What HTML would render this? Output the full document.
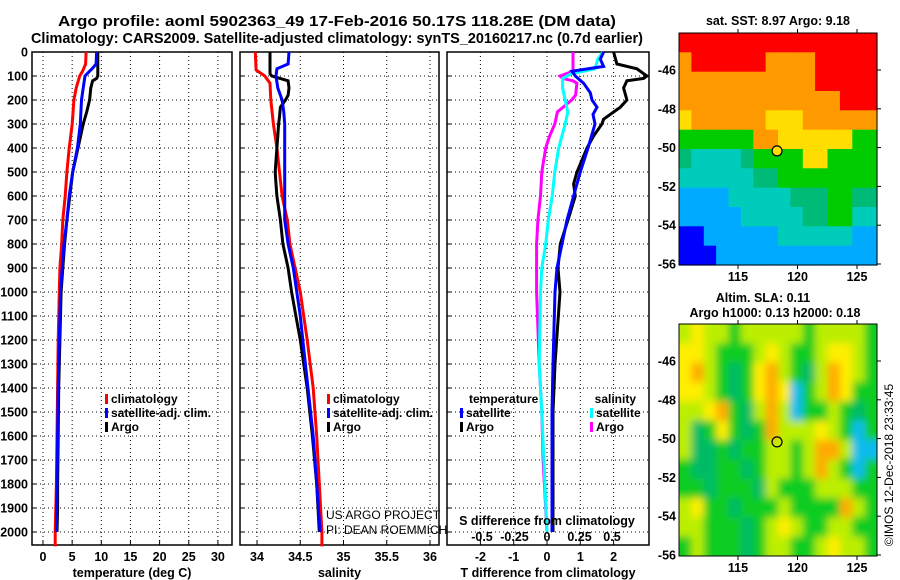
<!DOCTYPE html>
<html><head><meta charset="utf-8"><style>
html,body{margin:0;padding:0;background:#fff;}
svg{display:block;font-family:"Liberation Sans",sans-serif;}
</style></head><body>
<svg id="chart" width="900" height="580" viewBox="0 0 900 580">
<defs>
<clipPath id="clipB"><rect x="679" y="324" width="198" height="232"/></clipPath>
<filter id="blur" x="-10%" y="-10%" width="120%" height="120%"><feGaussianBlur stdDeviation="4"/></filter>
</defs>
<g id="root"></g>
</svg>
<script>
// ---- data arrays ----
const depthTicks = [0,100,200,300,400,500,600,700,800,900,1000,1100,1200,1300,1400,1500,1600,1700,1800,1900,2000];
const tempTicks = [0,5,10,15,20,25,30];
const salTicks = [34,34.5,35,35.5,36];
const tdiffTicks = [-2,-1,0,1,2];
const sdiffTicks = [-0.5,-0.25,0,0.25,0.5];
const sdiffLabels = ["-0.5","-0.25","0","0.25","0.5"];

const tClimDepth = [0,50,80,100,150,200,300,400,500,600,700,800,900,1000,1200,1400,1600,1800,2000,2060];
const tClimVal = [7.4,7.3,6.8,6.3,5.7,5.3,5.0,4.5,4.1,3.8,3.4,3.2,2.9,2.8,2.6,2.5,2.4,2.3,2.1,2.1];
const tSatDepth = [0,50,70,80,100,150,200,300,400,500,600,700,800,900,1000,1200,1400,1600,1800,2000];
const tSatVal = [9.2,9.1,8.4,8.0,7.2,6.9,6.6,6.4,5.9,5.1,4.5,4.1,3.6,3.3,3.0,2.8,2.6,2.5,2.4,2.3];
const tArgoDepth = [0,100,110,120,150,200,250,300,400,500,600,700,800,900,1000,1200,1400,1600,1800,1900,2000];
const tArgoVal = [9.4,9.4,9.2,8.5,8.2,8.0,7.5,6.9,6.0,5.1,4.6,4.1,3.7,3.4,3.1,2.9,2.7,2.6,2.5,2.5,2.4];

const sClimDepth = [0,75,100,130,200,300,400,500,600,700,800,900,1000,1100,1200,1400,1600,1800,2000,2060];
const sClimVal = [33.98,33.99,34.09,34.15,34.16,34.19,34.23,34.26,34.29,34.35,34.38,34.44,34.5,34.54,34.58,34.65,34.69,34.72,34.75,34.75];
const sSatDepth = [0,50,70,100,150,200,250,300,700,800,900,1000,1100,1200,1400,1600,1800,2000];
const sSatVal = [34.37,34.36,34.23,34.22,34.24,34.29,34.31,34.32,34.32,34.36,34.42,34.46,34.5,34.53,34.59,34.65,34.69,34.73];
const sArgoDepth = [0,90,100,120,150,180,200,230,270,300,350,400,500,550,600,700,800,900,1000,1100,1200,1400,1600,1800,2000];
const sArgoVal = [34.15,34.15,34.17,34.36,34.37,34.36,34.33,34.27,34.26,34.25,34.24,34.23,34.21,34.22,34.23,34.27,34.30,34.36,34.40,34.45,34.50,34.58,34.64,34.69,34.72];

const dtArgoDepth = [0,50,70,100,110,120,150,200,230,280,300,350,400,450,500,550,600,700,800,900,1000,1300,1500,2000];
const dtArgoVal = [2.0,2.1,2.7,3.0,2.9,2.4,2.3,2.4,2.2,1.7,1.65,1.4,1.2,1.05,0.9,0.8,0.85,0.63,0.4,0.33,0.39,0.24,0.18,0.18];
const dtSatDepth = [0,30,60,80,100,130,170,200,230,260,300,400,500,600,700,800,900,1000,1300,1500,2000];
const dtSatVal = [1.7,1.6,1.7,0.75,0.85,1.1,1.3,1.35,1.5,1.38,1.44,1.23,1.0,0.8,0.6,0.45,0.3,0.24,0.18,0.15,0.15];
const dsSatDepth = [0,30,70,90,110,150,200,250,300,400,500,600,700,800,900,1000,1300,1500,2000];
const dsSatVal = [0.43,0.39,0.37,0.19,0.12,0.12,0.14,0.16,0.14,0.09,0.06,0.04,0.01,-0.01,-0.04,-0.05,-0.06,-0.04,0.0];
const dsArgoDepth = [0,80,100,110,120,130,180,200,250,300,350,400,500,600,700,800,1000,1300,1500,1700,2000];
const dsArgoVal = [0.2,0.2,0.1,0.12,0.2,0.23,0.22,0.19,0.08,0.06,0.02,-0.01,-0.04,-0.05,-0.07,-0.08,-0.08,-0.06,-0.04,-0.03,0.0];

const lonTicks = [115,120,125];
const latTicks = [-46,-48,-50,-52,-54,-56];
const argoLon = 118.28, argoLat = -50.17;
const sstGrid = [
"RRRRRRRRRRRRRRRR",
"ORRRRRROOOORRRRR",
"OOOOOOOOOOORRRRR",
"OOOOOOOOOOOOORRR",
"YOOOOOOYYYOOOOOO",
"GGGGGGOOYYYYYYGG",
"TCCCCTGGGGYYGGGG",
"CCCCCCTTGGGGGGGG",
"BBBBCCCCCTTTGGTT",
"BBBBBCCCCCTTGGCC",
"DDBBBBBBCCCCCCBB",
"DDDBBBBBBBBBBBBB"];
const slaGrid = [
"LYLLGLLLLLGLLLLG",
"YYLGGGLYLGGLYYLG",
"YOLGTGYOLGTLOYLG",
"YYLGTGYOYCGLOYGG",
"LLYOGTLOLCGGLGTG",
"LTGYGTGOLLLYLGCG",
"LTTGTGGLLGLOOLCC",
"GTTGGTGLLGLOLGCG",
"GGTGGGTLGGGLLLGG",
"LYGGTGGGLGGGGOLG",
"LLGGGTGLYLGGLLGG",
"GLGGGTGLLGGLYLLG"];

// ---- helpers ----
const NS="http://www.w3.org/2000/svg";
const root=document.getElementById('root');
function el(tag,attrs,parent){const e=document.createElementNS(NS,tag);for(const k in attrs)e.setAttribute(k,attrs[k]);(parent||root).appendChild(e);return e;}
function txt(s,x,y,size,anchor,bold,parent){const t=el('text',{x:x,y:y,'font-size':size,'text-anchor':anchor||'middle'},parent);if(bold)t.setAttribute('font-weight','bold');t.textContent=s;return t;}
const Y0=52,Y1=545;
function yD(d){return Y0+d*0.24;}
const P1={x0:32,x1:232,sx:v=>43+v*5.83};
const P2={x0:240,x1:439,sx:v=>257+(v-34)*86.5};
const P3={x0:447,x1:649,sx:v=>547+v*33.3,ss:v=>547+v*130};

function panel(P,name,xt,xlab,title,leftLabels){
  const g=el('g',{});
  
  
  el('rect',{x:P.x0,y:Y0,width:P.x1-P.x0,height:Y1-Y0,fill:'#fff',stroke:'#000','stroke-width':1.5},g);
  depthTicks.forEach(d=>{
    const y=yD(d);
    if(d>0) el('line',{x1:P.x0,x2:P.x1,y1:y,y2:y,stroke:'#000','stroke-width':1,'stroke-dasharray':'1,3'},g);
    el('line',{x1:P.x0,x2:P.x0+5,y1:y,y2:y,stroke:'#000'},g);
    if(leftLabels){const t=txt(String(d),28,y+4.5,12.5,'end',true,g);
      
      }
  });
  xt.forEach((v,i)=>{
    const x=P.sx(v);
    el('line',{x1:x,x2:x,y1:Y0,y2:Y1,stroke:'#000','stroke-width':1,'stroke-dasharray':'1,3'},g);
    el('line',{x1:x,x2:x,y1:Y1,y2:Y1-5,stroke:'#000'},g);
    const t=txt(String(v),x,561,12.5,'middle',true,g);
    
    
  });
  const at=txt(title,(P.x0+P.x1)/2,577,12.5,'middle',true,g);
  
  
  return g;
}
function line(depths,vals,sx,color,name,g){
  const pts=depths.map((d,i)=>sx(vals[i]).toFixed(1)+','+yD(d).toFixed(1)).join(' ');
  const p=el('polyline',{points:pts,fill:'none',stroke:color,'stroke-width':3,'stroke-linejoin':'miter'},g);
  
  
}
function legendEntry(x,y,color,label,g){
  el('rect',{x:x,y:y-9,width:3,height:10,fill:color},g);
  const t=txt(label,x+6,y,12,'start',true,g);
  
  
}

// titles
const t1=txt('Argo profile: aoml 5902363_49 17-Feb-2016 50.17S 118.28E (DM data)',337,26,15,'middle',true);
t1.setAttribute('textLength','558');
t1.setAttribute('lengthAdjust','spacingAndGlyphs');


const t2=txt('Climatology: CARS2009. Satellite-adjusted climatology: synTS_20160217.nc (0.7d earlier)',337,43,15,'middle',true);
t2.setAttribute('textLength','612');
t2.setAttribute('lengthAdjust','spacingAndGlyphs');



// panel 1
const g1=panel(P1,'temperature-panel',tempTicks,null,'temperature (deg C)',true);
line(tClimDepth,tClimVal,P1.sx,'#ff0000','temp-climatology-line',g1);
line(tArgoDepth,tArgoVal,P1.sx,'#000000','temp-argo-line',g1);
line(tSatDepth,tSatVal,P1.sx,'#0000ff','temp-satellite-line',g1);
legendEntry(105,403,'#ff0000','climatology',g1);
legendEntry(105,417,'#0000ff','satellite-adj. clim.',g1);
legendEntry(105,431,'#000000','Argo',g1);

// panel 2
const g2=panel(P2,'salinity-panel',salTicks,null,'salinity',false);
line(sClimDepth,sClimVal,P2.sx,'#ff0000','sal-climatology-line',g2);
line(sArgoDepth,sArgoVal,P2.sx,'#000000','sal-argo-line',g2);
line(sSatDepth,sSatVal,P2.sx,'#0000ff','sal-satellite-line',g2);
legendEntry(327,403,'#ff0000','climatology',g2);
legendEntry(327,417,'#0000ff','satellite-adj. clim.',g2);
legendEntry(327,431,'#000000','Argo',g2);
const c1=txt('US ARGO PROJECT',326,519,12,'start',false,g2);


const c2=txt('PI: DEAN ROEMMICH',326,534,12,'start',false,g2);



// panel 3
const g3=panel(P3,'difference-panel',tdiffTicks,null,'T difference from climatology',false);
line(dsArgoDepth,dsArgoVal,P3.ss,'#ff00ff','sdiff-argo-line',g3);
line(dsSatDepth,dsSatVal,P3.ss,'#00ffff','sdiff-satellite-line',g3);
line(dtArgoDepth,dtArgoVal,P3.sx,'#000000','tdiff-argo-line',g3);
line(dtSatDepth,dtSatVal,P3.sx,'#0000ff','tdiff-satellite-line',g3);
const tl=txt('temperature',469,403,12,'start',true,g3);


legendEntry(460,417,'#0000ff','satellite',g3);
legendEntry(460,431,'#000000','Argo',g3);
const sl=txt('salinity',636,403,12,'end',true,g3);


legendEntry(590,417,'#00ffff','satellite',g3);
legendEntry(590,431,'#ff00ff','Argo',g3);
const sdt=txt('S difference from climatology',547,525,12.5,'middle',true,g3);


sdiffTicks.forEach((v,i)=>{
  const t=txt(sdiffLabels[i],P3.ss(v),541,12.5,'middle',true,g3);
  
  
});

// maps
const sstCol={R:'#ff0000',O:'#ff9900',Y:'#ffdd00',G:'#00cc00',T:'#00bb77',C:'#00ccbb',B:'#00aaff',D:'#0000ff'};
const slaCol={G:'#11cc22',T:'#00bb66',C:'#11bbee',L:'#bbee00',Y:'#ffee00',O:'#ffaa00'};
function lonX(lon){return 738+(lon-115)*11.9;}
function map(name,y0,grid,cols,blur,fillMarker){
  const g=el('g',{});
  
  
  const x0=679,x1=877,y1=y0+232;
  const cw=(x1-x0)/16,ch=(y1-y0)/12;
  const cells=el('g',blur?{'clip-path':'url(#clipB)'}:{},g);
  const inner=el('g',blur?{filter:'url(#blur)'}:{},cells);
  const pad=blur?10:0;
  grid.forEach((row,r)=>{for(let c=0;c<16;c++){
    const x=x0+c*cw-(c==0?pad:0), y=y0+r*ch-(r==0?pad:0);
    const w=cw+0.6+((c==0||c==15)?pad:0), h=ch+0.6+((r==0||r==11)?pad:0);
    el('rect',{x:x.toFixed(1),y:y.toFixed(1),width:w.toFixed(1),height:h.toFixed(1),fill:cols[row[c]]},inner);
  }});
  el('rect',{x:x0,y:y0,width:x1-x0,height:y1-y0,fill:'none',stroke:'#000','stroke-width':1},g);
  const latY=lat=>y0+37+(-46-lat)*19.4;
  latTicks.forEach(lat=>{
    const y=latY(lat);
    el('line',{x1:x1,x2:x1+4,y1:y,y2:y,stroke:'#000'},g);
    const t=txt(String(lat),676,y+4.5,12.5,'end',true,g);
    
    
  });
  lonTicks.forEach(lon=>{
    const x=lonX(lon);
    el('line',{x1:x,x2:x,y1:y0,y2:y0-4,stroke:'#000'},g);
    el('line',{x1:x,x2:x,y1:y1,y2:y1+4,stroke:'#000'},g);
    const t=txt(String(lon),x,y1+16,12.5,'middle',true,g);
    
    
  });
  const m=el('circle',{cx:lonX(argoLon),cy:latY(argoLat),r:5,fill:fillMarker?'#ffdd00':'none',stroke:'#000','stroke-width':1.2},g);
  
  
  return g;
}
map('sst-map',33,sstGrid,sstCol,false,true);
map('sla-map',324,slaGrid,slaCol,true,false);
const mt1=txt('sat. SST: 8.97 Argo: 9.18',778,25,12.5,'middle',true);


const mt2=txt('Altim. SLA: 0.11',763,302,12.5,'middle',true);


const mt3=txt('Argo h1000: 0.13 h2000: 0.18',775,317,12.5,'middle',true);


const stamp=el('text',{x:0,y:0,'font-size':12,'text-anchor':'middle',transform:'translate(893,465) rotate(-90)'});
stamp.textContent='\u00A9IMOS 12-Dec-2018 23:33:45';


</script>
</body></html>
